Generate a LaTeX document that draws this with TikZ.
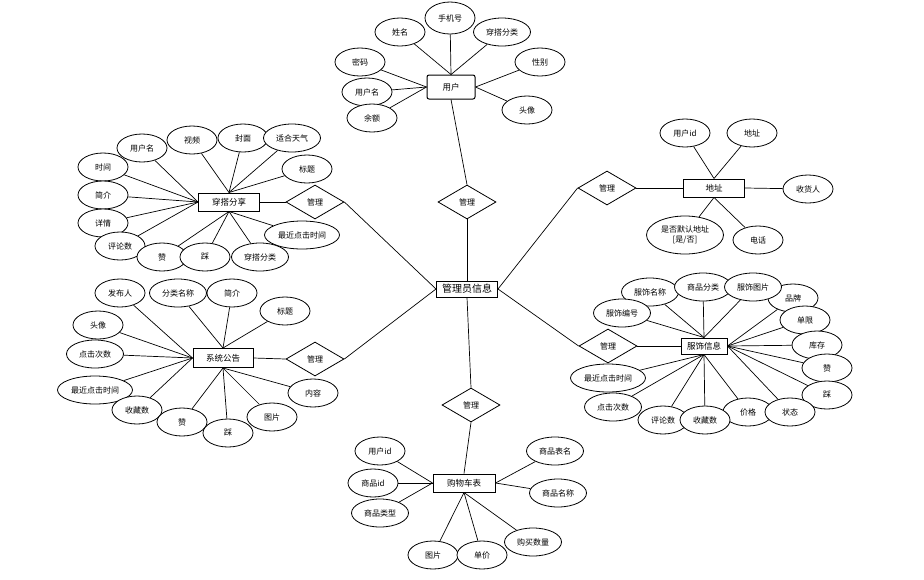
\documentclass[tikz,border=0pt]{standalone}
\usepackage{fontspec}
\newfontfamily\cjk{Noto Sans CJK SC}
\usetikzlibrary{shapes.geometric}
\pgfdeclarelayer{bg}
\pgfsetlayers{bg,main}
\tikzset{
  attr/.style={ellipse,draw,fill=white,line width=0.8pt,inner sep=0pt,minimum width=50,minimum height=28,font=\cjk\fontsize{8}{10}\selectfont},
  wide/.style={minimum width=57},
  xwide/.style={minimum width=75},
  ent/.style={rectangle,draw,fill=white,line width=1pt,inner sep=0pt,minimum width=61,minimum height=18,font=\cjk\fontsize{8.5}{10}\selectfont},
  rel/.style={diamond,draw,fill=white,line width=0.8pt,inner sep=0pt,minimum width=58,minimum height=34,font=\cjk\fontsize{8}{10}\selectfont},
  conn/.style={line width=0.7pt}
}
\begin{document}
\begin{tikzpicture}[x=1pt,y=-1pt]
\useasboundingbox (0,0) rectangle (924,579);
% admin
\node[ent,minimum width=61,minimum height=16,font=\cjk\fontsize{10}{12}\selectfont] (adm) at (467,289) {管理员信息};
% user
\node[ent,rounded corners=2pt,minimum width=48,minimum height=24] (u) at (451,87) {用户};
\node[attr] (u1) at (400,32) {姓名};
\node[attr,minimum height=32] (u2) at (450,18) {手机号};
\node[attr,wide] (u3) at (502,32) {穿搭分类};
\node[attr] (u4) at (540,62) {性别};
\node[attr] (u5) at (360,62) {密码};
\node[attr] (u6) at (367,92) {用户名};
\node[attr] (u7) at (372,118) {余额};
\node[attr] (u8) at (527,110) {头像};
\node[rel] (ru) at (467,202) {管理};
% outfit share
\node[ent] (s) at (229,202) {穿搭分享};
\node[attr] (s1) at (142,148) {用户名};
\node[attr] (s2) at (192,140) {视频};
\node[attr] (s3) at (243,138) {封面};
\node[attr,wide] (s4) at (292,138) {适合天气};
\node[attr] (s5) at (103,167) {时间};
\node[attr] (s6) at (307,169) {标题};
\node[attr] (s7) at (103,195) {简介};
\node[attr] (s8) at (103,223) {详情};
\node[attr,xwide] (s9) at (302,235) {最近点击时间};
\node[attr] (s10) at (120,246) {评论数};
\node[attr] (s11) at (162,257) {赞};
\node[attr] (s12) at (205,257) {踩};
\node[attr,wide] (s13) at (260,257) {穿搭分类};
\node[rel] (rs) at (315,202) {管理};
% announcement
\node[ent,minimum width=60,minimum height=19] (n) at (223,358) {系统公告};
\node[attr] (n1) at (120,293) {发布人};
\node[attr,wide] (n2) at (178,293) {分类名称};
\node[attr] (n3) at (232,293) {简介};
\node[attr] (n4) at (285,311) {标题};
\node[attr] (n5) at (98,325) {头像};
\node[attr,wide] (n6) at (95,354) {点击次数};
\node[attr,xwide] (n7) at (95,390) {最近点击时间};
\node[attr] (n8) at (313,393) {内容};
\node[attr] (n9) at (137,410) {收藏数};
\node[attr] (n10) at (182,422) {赞};
\node[attr] (n11) at (272,417) {图片};
\node[attr] (n12) at (228,433) {踩};
\node[rel] (rn) at (315,359) {管理};
% address
\node[ent] (a) at (714,188) {地址};
\node[attr] (a1) at (685,133) {用户id};
\node[attr] (a2) at (752,133) {地址};
\node[attr] (a3) at (808,189) {收货人};
\node[attr,minimum width=77,minimum height=38,align=center] (a4) at (685,235) {是否默认地址\\{[}是/否{]}};
\node[attr] (a5) at (758,240) {电话};
\node[rel] (ra) at (607,188) {管理};
% clothing
\node[ent,minimum width=46,minimum height=16] (c) at (704,346) {服饰信息};
\node[attr] (c4) at (793,298) {品牌};
\node[attr,wide] (c1) at (650,292) {服饰名称};
\node[attr,wide] (c2) at (703,287) {商品分类};
\node[attr,wide] (c3) at (753,287) {服饰图片};
\node[attr,wide] (c5) at (622,313) {服饰编号};
\node[attr] (c6) at (805,320) {单限};
\node[attr] (c7) at (817,345) {库存};
\node[attr] (c8) at (827,368) {赞};
\node[attr,xwide] (c9) at (608,378) {最近点击时间};
\node[attr] (c10) at (827,395) {踩};
\node[attr,wide] (c11) at (613,407) {点击次数};
\node[attr] (c12) at (748,412) {价格};
\node[attr] (c13) at (790,412) {状态};
\node[attr] (c14) at (663,420) {评论数};
\node[attr] (c15) at (705,420) {收藏数};
\node[rel] (rc) at (608,346) {管理};
% cart
\node[ent,minimum width=62] (k) at (464,483) {购物车表};
\node[attr] (k1) at (380,451) {用户id};
\node[attr,wide] (k2) at (555,451) {商品表名};
\node[attr] (k3) at (373,483) {商品id};
\node[attr,wide] (k4) at (558,493) {商品名称};
\node[attr,wide] (k5) at (380,513) {商品类型};
\node[attr,wide] (k6) at (533,542) {购买数量};
\node[attr] (k7) at (433,555) {图片};
\node[attr] (k8) at (482,555) {单价};
\node[rel] (rk) at (471,405) {管理};
\begin{pgfonlayer}{bg}
\foreach \i/\an in {1/north,2/north,3/north,4/east,5/west,6/west,7/west,8/east}
  \draw[conn] (u.\an) -- (u\i);
\foreach \i/\an in {1/west,2/north,3/north,4/north,5/west,6/north,7/west,8/west,9/south,10/west,11/south,12/south,13/south}
  \draw[conn] (s.\an) -- (s\i);
\foreach \i/\an in {1/west,2/north,3/north,4/north,5/west,6/west,7/west,8/south,9/west,10/south,11/south,12/south}
  \draw[conn] (n.\an) -- (n\i);
\foreach \i/\an in {1/north,2/north,3/east,4/south,5/south}
  \draw[conn] (a.\an) -- (a\i);
\foreach \i/\an in {1/north,2/north,3/north,4/east,5/north,6/east,7/east,8/east,9/south,10/east,11/south,12/south,13/east,14/south,15/south}
  \draw[conn] (c.\an) -- (c\i);
\foreach \i/\an in {1/west,2/east,3/west,4/east,5/west,6/south,7/south,8/south}
  \draw[conn] (k.\an) -- (k\i);
\draw[conn] (u.south) -- (ru.north);
\draw[conn] (ru.south) -- (adm.north);
\draw[conn] (s.east) -- (rs.west);
\draw[conn] (rs.east) -- (adm.west);
\draw[conn] (n.east) -- (rn.west);
\draw[conn] (rn.east) -- (adm.west);
\draw[conn] (a.west) -- (ra.east);
\draw[conn] (ra.west) -- (adm.east);
\draw[conn] (c.west) -- (rc.east);
\draw[conn] (rc.west) -- (adm.east);
\draw[conn] (k.north) -- (rk.south);
\draw[conn] (rk.north) -- (adm.south);
\end{pgfonlayer}
\end{tikzpicture}
\end{document}
